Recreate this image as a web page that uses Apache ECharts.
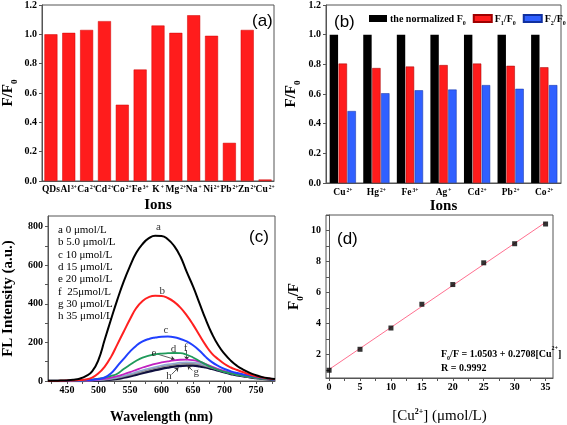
<!DOCTYPE html>
<html><head><meta charset="utf-8">
<script src="https://cdn.jsdelivr.net/npm/echarts@6/dist/echarts.min.js"></script>
<style>html,body{margin:0;padding:0;background:#fff}#c{width:567px;height:425px}</style>
</head><body><div id="c"></div>
<script>
// ---------- Panel (a) ----------
const ionsA = ['QDs','Al3+','Ca2+','Cd2+','Co2+','Fe3+','K+','Mg2+','Na+','Ni2+','Pb2+','Zn2+','Cu2+'];
const ratioA = [1.00,1.01,1.03,1.09,0.52,0.76,1.06,1.01,1.13,0.99,0.26,1.03,0.01];

// ---------- Panel (b) ----------
const ionsB = ['Cu2+','Hg2+','Fe3+','Ag+','Cd2+','Pb2+','Co2+'];
const normF0 = [1,1,1,1,1,1,1];
const f1F0 = [0.805,0.775,0.785,0.795,0.805,0.79,0.78];
const f2F0 = [0.485,0.605,0.625,0.63,0.66,0.635,0.66];

// ---------- Panel (c) ----------
const wavelength = [420,430,440,450,460,470,480,490,500,510,520,530,540,550,560,570,580,590,600,610,620,630,640,650,660,670,680,690,700,710,720,730,740,750,760,770,780];
const curveA = [1,1,2,3,6,12,25,50,110,215,320,422,515,595,664,710,740,753,752,735,700,645,565,490,405,320,245,185,140,105,78,58,42,30,20,14,10];
const curveB = [0,0,1,2,3,5,8,18,40,75,125,190,255,320,378,415,435,442,441,430,410,380,340,292,238,186,142,113,88,70,57,45,34,25,18,13,9];
const curveC = [0,0,0,1,2,3,5,7,10,18,40,77,115,152,183,205,218,225,229,230,227,218,205,185,158,125,98,78,62,50,41,34,28,22,17,12,8];
const curveD = [0,0,0,0,1,2,4,7,12,18,26,38,62,84,105,121,131,138,142,144,145,144,136,122,104,86,70,57,47,39,32,26,21,17,13,10,7];
const curveE = [0,0,0,0,1,1,2,4,7,11,17,25,35,46,58,70,80,89,96,102,107,110,111,108,100,88,75,62,51,42,34,28,23,18,14,11,8];
const curveF = [0,0,0,0,0,1,1,3,5,8,13,19,27,36,46,56,65,73,80,86,91,95,97,96,91,82,71,60,50,41,33,27,22,17,13,10,7];
const curveG = [0,0,0,0,0,1,1,2,4,7,11,16,23,31,40,49,58,66,73,79,84,88,90,89,85,77,67,57,47,39,32,26,21,17,13,10,7];
const curveH = [0,0,0,0,0,0,1,2,3,5,8,12,18,25,33,41,49,57,64,70,75,78,80,80,77,71,63,54,45,37,30,25,20,16,12,9,7];
const curveNames = ['a','b','c','d','e','f','g','h'];
const concLegend = ['a 0 μmol/L','b 5.0 μmol/L','c 10 μmol/L','d 15 μmol/L','e 20 μmol/L','f  25μmol/L','g 30 μmol/L','h 35 μmol/L'];
const curveLabelPos = [[595,795],[601,468],[607,263],[619,165],[588,145],[638,170],[655,44],[612,24]];
const ticksCx = [450,500,550,600,650,700,750];
const ticksCy = [0,200,400,600,800];

// ---------- Panel (d) ----------
const cuConc = [0,5,10,15,20,25,30,35];
const f0OverF = [1.0,2.35,3.72,5.25,6.52,7.92,9.15,10.42];
const fitIntercept = 1.0503, fitSlope = 0.2708;
const ticksDx = [0,5,10,15,20,25,30,35];
const ticksDy = [2,4,6,8,10];

const serif = '"Liberation Serif","Times New Roman",serif';
const sans = '"Liberation Sans",Arial,sans-serif';
const axisCol = '#555';

function ionRich(name){
  const m = name.match(/^(.*?)(\d*\+)$/);
  if(!m) return '{b|'+name+'}';
  return '{b|'+m[1]+'}{sup|'+m[2]+'}';
}
const ionRichStyle = {
  b:{fontFamily:serif,fontWeight:'bold',fontSize:9.5,color:'#000',lineHeight:10,verticalAlign:'bottom'},
  sup:{fontFamily:serif,fontWeight:'bold',fontSize:5.5,color:'#000',lineHeight:10,verticalAlign:'top',padding:[0,0,0,1]}
};
const nameRich = {
  n:{fontFamily:serif,fontWeight:'bold',fontSize:15,color:'#000',lineHeight:16,verticalAlign:'bottom'},
  s:{fontFamily:serif,fontWeight:'bold',fontSize:9,color:'#000',lineHeight:16,verticalAlign:'bottom',padding:[0,0,-3,0]},
  p:{fontFamily:serif,fontWeight:'bold',fontSize:8,color:'#000',lineHeight:16,verticalAlign:'top'},
  r:{fontFamily:serif,fontWeight:'normal',fontSize:15,color:'#000',lineHeight:16,verticalAlign:'bottom'}
};
const tickLabel = {fontFamily:serif,fontWeight:'bold',fontSize:10,color:'#000'};
const axLine = {lineStyle:{color:axisCol,width:1}};

const chart = echarts.init(document.getElementById('c'));

const grids = [
  {left:38,top:5,width:236,height:176},
  {left:326,top:5,width:235,height:178},
  {left:44,top:216,width:231,height:172},
  {left:326,top:215,width:227,height:169}
].map(g=>Object.assign({show:true,borderColor:axisCol,borderWidth:1,backgroundColor:'transparent'},g));

const curveSets = [curveA,curveB,curveC,curveD,curveE,curveF,curveG,curveH];
const curveColors = ['#000000','#ff2020','#2040ff','#1f9a5a','#c020c0','#8ea7d0','#8c8c8c','#101040'];
const curveWidths = [2,2,2,1.8,1.8,1.6,1.6,2.6];

const series = [];
series.push({type:'bar',xAxisIndex:0,yAxisIndex:0,data:ratioA,barWidth:13,
  itemStyle:{color:'#ff1c1c',borderColor:'#d00000',borderWidth:0.5}});
series.push({name:'norm',type:'bar',xAxisIndex:1,yAxisIndex:1,data:normF0,barWidth:8.4,barGap:'6%',
  itemStyle:{color:'#000'}});
series.push({name:'f1',type:'bar',xAxisIndex:1,yAxisIndex:1,data:f1F0,barWidth:8.4,barGap:'6%',
  itemStyle:{color:'#ff1c1c',borderColor:'#a00000',borderWidth:0.5}});
series.push({name:'f2',type:'bar',xAxisIndex:1,yAxisIndex:1,data:f2F0,barWidth:8.4,barGap:'6%',
  itemStyle:{color:'#3060ff',borderColor:'#1030a0',borderWidth:0.5}});
curveSets.forEach((arr,i)=>{
  series.push({type:'line',xAxisIndex:2,yAxisIndex:2,smooth:true,showSymbol:false,z:10-i,
    data:wavelength.map((w,k)=>[w,arr[k]]),
    lineStyle:{color:curveColors[i],width:curveWidths[i]}});
});
series.push({type:'scatter',xAxisIndex:2,yAxisIndex:2,symbolSize:0,silent:true,z:20,
  data:curveLabelPos.map((p,i)=>[p[0],p[1],curveNames[i]]),
  label:{show:true,position:'inside',formatter:p=>p.value[2],fontFamily:serif,fontSize:11,color:'#000'},
  markLine:{silent:true,symbol:['none','arrow'],symbolSize:4,label:{show:false},
    lineStyle:{color:'#333',width:0.8,type:'solid'},
    data:[
      [{coord:[593,140]},{coord:[621,112]}],
      [{coord:[640,160]},{coord:[640,108]}],
      [{coord:[649,55]},{coord:[641,80]}],
      [{coord:[616,34]},{coord:[627,70]}]
    ]}
});
series.push({type:'line',xAxisIndex:3,yAxisIndex:3,showSymbol:false,
  data:[[cuConc[0],fitIntercept+fitSlope*cuConc[0]],[cuConc[cuConc.length-1],fitIntercept+fitSlope*cuConc[cuConc.length-1]]],
  lineStyle:{color:'#ff7090',width:1}});
series.push({type:'scatter',xAxisIndex:3,yAxisIndex:3,symbol:'rect',symbolSize:5,
  data:cuConc.map((c,i)=>[c,f0OverF[i]]),itemStyle:{color:'#000'},z:5});

const option = {
  animation:false,
  backgroundColor:'#fff',
  grid:grids,
  title:[
    {text:'(a)',left:247,top:8,textStyle:{fontFamily:sans,fontWeight:'normal',fontSize:17,color:'#000'}},
    {text:'(b)',left:329,top:9,textStyle:{fontFamily:sans,fontWeight:'normal',fontSize:17,color:'#000'}},
    {text:'(c)',left:244,top:224,textStyle:{fontFamily:sans,fontWeight:'normal',fontSize:17,color:'#000'}},
    {text:'(d)',left:332,top:226,textStyle:{fontFamily:sans,fontWeight:'normal',fontSize:17,color:'#000'}},
    {text:concLegend.join('\n'),left:53,top:219,textStyle:{fontFamily:serif,fontWeight:'normal',fontSize:11,lineHeight:12.3,color:'#000'}},
    {text:'{n|F}{s|0}{n|/F = 1.0503 + 0.2708[Cu}{p|2+}{n|]}\n{n|R = 0.9992}',left:436,top:340,
      textStyle:{rich:{
        n:{fontFamily:serif,fontWeight:'bold',fontSize:10,color:'#000',lineHeight:14,verticalAlign:'bottom'},
        s:{fontFamily:serif,fontWeight:'bold',fontSize:6,color:'#000',lineHeight:14,verticalAlign:'bottom',padding:[0,0,-2,0]},
        p:{fontFamily:serif,fontWeight:'bold',fontSize:6,color:'#000',lineHeight:10,verticalAlign:'top'}
      }}}
  ],
  legend:{left:364,top:9,width:200,orient:'horizontal',itemWidth:18,itemHeight:7,itemGap:7,data:['norm','f1','f2'],
    icon:'rect',
    formatter:n=>({norm:'{t|the normalized F}{s|0}',f1:'{t|F}{s|1}{t|/F}{s|0}',f2:'{t|F}{s|2}{t|/F}{s|0}'})[n],
    textStyle:{padding:[0,0,0,-2],rich:{
      t:{fontFamily:serif,fontWeight:'bold',fontSize:10,color:'#000',lineHeight:12,verticalAlign:'bottom'},
      s:{fontFamily:serif,fontWeight:'bold',fontSize:6,color:'#000',lineHeight:12,verticalAlign:'bottom',padding:[0,0,-2,0]}
    }}},
  xAxis:[
    {gridIndex:0,type:'category',data:ionsA,name:'Ions',nameLocation:'middle',nameGap:17,
      nameTextStyle:{fontFamily:serif,fontWeight:'bold',fontSize:15,color:'#000'},
      axisLine:axLine,axisTick:{alignWithLabel:true,length:3,lineStyle:{color:axisCol}},
      axisLabel:{interval:0,margin:4,formatter:v=>ionRich(v),rich:ionRichStyle}},
    {gridIndex:1,type:'category',data:ionsB,name:'Ions',nameLocation:'middle',nameGap:15,
      nameTextStyle:{fontFamily:serif,fontWeight:'bold',fontSize:15,color:'#000'},
      axisLine:axLine,axisTick:{alignWithLabel:true,length:3,lineStyle:{color:axisCol}},
      axisLabel:{interval:0,margin:5,formatter:v=>ionRich(v),rich:ionRichStyle}},
    {gridIndex:2,type:'value',min:420,max:780,name:'Wavelength (nm)',nameLocation:'middle',nameGap:29,
      nameTextStyle:{fontFamily:serif,fontWeight:'bold',fontSize:14,color:'#000'},
      axisLine:axLine,splitLine:{show:false},
      axisTick:{customValues:[425,450,475,500,525,550,575,600,625,650,675,700,725,750,775],length:3,lineStyle:{color:axisCol}},
      axisLabel:Object.assign({customValues:ticksCx,margin:4},tickLabel)},
    {gridIndex:3,type:'value',min:-0.5,max:36.2,name:'{r|[Cu}{p|2+}{r|] (μmol/L)}',nameLocation:'middle',nameGap:30,
      nameTextStyle:{rich:nameRich},
      axisLine:axLine,splitLine:{show:false},
      axisTick:{customValues:[0,2.5,5,7.5,10,12.5,15,17.5,20,22.5,25,27.5,30,32.5,35],length:3,lineStyle:{color:axisCol}},
      axisLabel:Object.assign({customValues:ticksDx,margin:4},tickLabel)}
  ],
  yAxis:[
    {gridIndex:0,type:'value',min:0,max:1.2,interval:0.2,name:'{n|F/F}{s|0}',nameLocation:'middle',nameGap:26,
      nameTextStyle:{rich:nameRich},
      axisLine:{show:true,lineStyle:{color:axisCol}},axisTick:{show:true,length:3,lineStyle:{color:axisCol}},splitLine:{show:false},
      axisLabel:Object.assign({formatter:v=>v.toFixed(1),margin:5},tickLabel)},
    {gridIndex:1,type:'value',min:0,max:1.2,interval:0.2,name:'{n|F/F}{s|0}',nameLocation:'middle',nameGap:27,
      nameTextStyle:{rich:nameRich},
      axisLine:{show:true,lineStyle:{color:axisCol}},axisTick:{show:true,length:3,lineStyle:{color:axisCol}},splitLine:{show:false},
      axisLabel:Object.assign({formatter:v=>v.toFixed(1),margin:5},tickLabel)},
    {gridIndex:2,type:'value',min:0,max:855,name:'FL Intensity (a.u.)',nameLocation:'middle',nameGap:32,
      nameTextStyle:{fontFamily:serif,fontWeight:'bold',fontSize:15,color:'#000'},
      axisLine:{show:true,lineStyle:{color:axisCol}},splitLine:{show:false},
      axisTick:{show:true,customValues:[0,100,200,300,400,500,600,700,800],length:3,lineStyle:{color:axisCol}},
      axisLabel:Object.assign({customValues:ticksCy,margin:5},tickLabel)},
    {gridIndex:3,type:'value',min:0.5,max:11,name:'{n|F}{s|0}{n|/F}',nameLocation:'middle',nameGap:24,
      nameTextStyle:{rich:nameRich},
      axisLine:{show:true,lineStyle:{color:axisCol}},splitLine:{show:false},
      axisTick:{show:true,customValues:[1,2,3,4,5,6,7,8,9,10,11],length:3,lineStyle:{color:axisCol}},
      axisLabel:Object.assign({customValues:ticksDy,margin:5},tickLabel)}
  ],
  series:series
};
chart.setOption(option);
</script>
</body></html>
